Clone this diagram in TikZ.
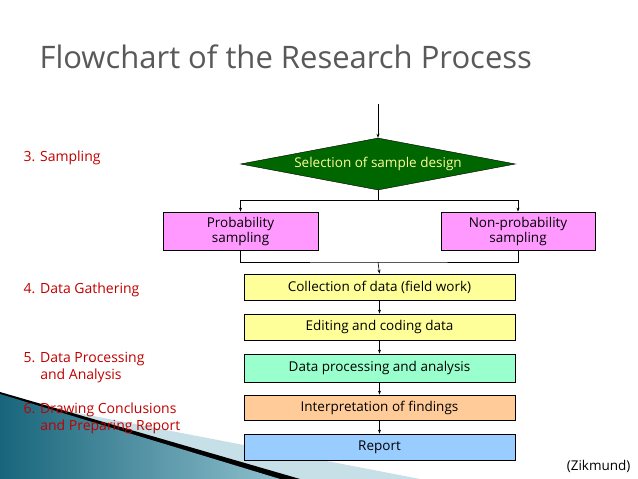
\documentclass[tikz,border=0pt]{standalone}
\usepackage{fontspec}
\setmainfont{Open Sans}
\usetikzlibrary{shapes.geometric,arrows.meta}
\definecolor{lab}{HTML}{C00000}
\definecolor{teal1}{HTML}{1E7F9A}
\definecolor{pk}{HTML}{FF99FF}
\definecolor{yl}{HTML}{FFFF99}
\definecolor{gn}{HTML}{99FFCC}
\definecolor{og}{HTML}{FFCC99}
\definecolor{bl}{HTML}{99CCFF}
\begin{document}
\begin{tikzpicture}[x=1pt,y=-1pt,
  bx/.style={draw=black,line width=0.8pt,minimum height=26pt,inner sep=1pt,font=\fontsize{13.5}{15}\selectfont,align=center},
  lbl/.style={anchor=west,text=lab,font=\fontsize{14}{17}\selectfont,align=left},
  ar/.style={-{Stealth[length=4pt,width=3pt]},line width=0.6pt}]
\useasboundingbox (0,0) rectangle (638,479);
\fill[white] (0,0) rectangle (638,479);
% decoration
\fill[teal1!25] (0,398) -- (420,479) -- (0,479) -- cycle;
\fill[black] (0,392) -- (300,479) -- (0,479) -- cycle;
\shade[left color=teal1!80!black,right color=teal1!50] (0,394) -- (280,479) -- (0,479) -- cycle;
\node[anchor=west,text=black!65,font=\fontsize{31}{34}\selectfont] (title) at (36,57) {Flowchart of the Research Process};
\coordinate (top) at (378,104);
\node[diamond,draw=black,fill=green!40!black,aspect=5.3,minimum width=275pt,minimum height=52pt,inner sep=0pt,text=yl,font=\fontsize{13.5}{15}\selectfont] (d) at (378,164) {Selection of sample design};
\node[bx,fill=pk,minimum width=155pt,minimum height=38pt] (p) at (240.5,231) {Probability\\sampling};
\node[bx,fill=pk,minimum width=154pt,minimum height=38pt] (np) at (518,231) {Non-probability\\sampling};
\node[bx,fill=yl,minimum width=271pt] (c) at (379.5,287) {Collection of data (field work)};
\node[bx,fill=yl,minimum width=271pt] (e) at (379.5,327) {Editing and coding data};
\node[bx,fill=gn,minimum width=271pt,minimum height=28pt] (dp) at (379.5,368) {Data processing and analysis};
\node[bx,fill=og,minimum width=271pt,minimum height=25pt] (i) at (379.5,407.5) {Interpretation of findings};
\node[bx,fill=bl,minimum width=271pt] (r) at (379.5,447) {Report};
\coordinate (s) at (378,200);
\coordinate (m) at (378,262);
\draw[ar] (top) -- (d.north);
\draw[line width=0.6pt] (d.south) -- (s);
\draw[ar] (s) -| (p.north);
\draw[ar] (s) -| (np.north);
\draw[line width=0.6pt] (p.south) |- (m) -| (np.south);
\draw[ar] (m) -- (c.north);
\draw[ar] (c) -- (e);
\draw[ar] (e) -- (dp);
\draw[ar] (dp) -- (i);
\draw[ar] (i) -- (r);
\node[lbl] (l3) at (20,158) {3. Sampling};
\node[lbl] (l4) at (20,290) {4. Data Gathering};
\node[lbl] (l5) at (20,368) {5. Data Processing\\\hspace*{1.2em}and Analysis};
\node[lbl] (l6) at (20,418) {6. Drawing Conclusions\\\hspace*{1.2em}and Preparing Report};
\node[anchor=east,font=\fontsize{13.5}{15}\selectfont] (z) at (634,466) {(Zikmund)};
\end{tikzpicture}
\end{document}
